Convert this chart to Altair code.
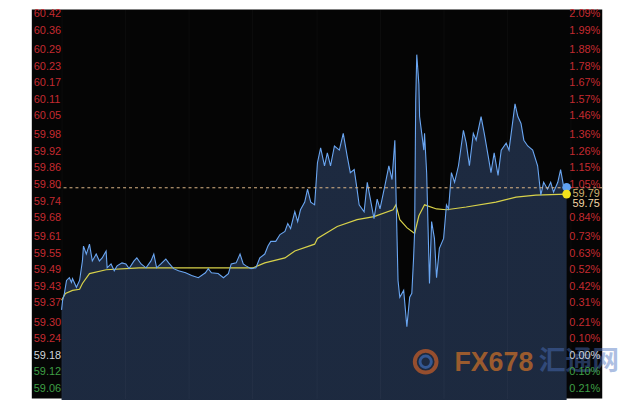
import altair as alt
import pandas as pd

# ---- price series (minutes from session open, price) ----
times = [0, 3, 8, 14, 22, 28, 31, 42, 51, 59, 62, 70, 79, 87, 98, 107, 115, 126, 129, 140,
         149, 157, 171, 182, 191, 205, 213, 225, 239, 253, 261, 269, 281, 295, 303, 317, 331, 351, 368, 387,
         407, 415, 424, 443, 458, 472, 480, 494, 505, 514, 522, 536, 550, 561, 575, 584, 592, 606, 618, 632,
         640, 648, 660, 668, 676, 688, 696, 705, 716, 724, 733, 744, 752, 761, 772, 786, 797, 808, 817, 828,
         836, 842, 856, 865, 870, 884, 893, 901, 915, 926, 935, 943, 946, 952, 957, 968, 977, 985, 991, 996,
         999, 1002, 1005, 1011, 1013, 1025, 1027, 1033, 1041, 1047, 1055, 1061, 1069, 1081, 1089, 1095, 1103, 1112, 1123, 1137,
         1145, 1154, 1165, 1173, 1187, 1196, 1207, 1215, 1224, 1235, 1244, 1258, 1266, 1277, 1283, 1291, 1300, 1308, 1319, 1333,
         1347, 1356, 1364, 1375, 1384, 1392, 1404, 1412, 1420, 1429]
prices = [59.346, 59.381, 59.406, 59.453, 59.463, 59.446, 59.460, 59.428, 59.453, 59.524, 59.578, 59.549, 59.585, 59.524, 59.549, 59.524, 59.535, 59.560, 59.499, 59.513,
          59.488, 59.506, 59.517, 59.513, 59.496, 59.524, 59.535, 59.513, 59.499, 59.524, 59.549, 59.499, 59.513, 59.531, 59.517, 59.496, 59.488, 59.481, 59.471, 59.463,
          59.481, 59.496, 59.481, 59.478, 59.463, 59.478, 59.513, 59.517, 59.549, 59.513, 59.506, 59.496, 59.499, 59.535, 59.549, 59.578, 59.595, 59.595, 59.620, 59.631,
          59.660, 59.642, 59.703, 59.667, 59.710, 59.738, 59.785, 59.738, 59.728, 59.881, 59.935, 59.870, 59.917, 59.870, 59.942, 59.927, 59.988, 59.906, 59.845, 59.856,
          59.785, 59.728, 59.703, 59.810, 59.774, 59.678, 59.749, 59.713, 59.799, 59.870, 59.820, 59.963, 59.785, 59.453, 59.392, 59.417, 59.285, 59.392, 59.406, 59.535,
          59.631, 60.106, 60.274, 60.167, 60.049, 59.927, 59.988, 59.845, 59.442, 59.667, 59.606, 59.463, 59.570, 59.606, 59.728, 59.713, 59.845, 59.810, 59.870, 59.999,
          59.952, 59.870, 59.988, 59.963, 60.049, 59.988, 59.906, 59.845, 59.917, 59.835, 59.927, 59.952, 59.927, 60.035, 60.095, 60.049, 60.024, 59.963, 59.942, 59.927,
          59.870, 59.763, 59.810, 59.785, 59.810, 59.774, 59.810, 59.856, 59.799, 59.792]

# ---- average price line ----
avg_times = [0, 11, 31, 51, 59, 79, 126, 219, 542, 575, 632, 660, 716, 724, 780, 836, 884, 938, 946, 957,
             977, 999, 1011, 1027, 1061, 1089, 1145, 1229, 1286, 1342, 1429]
avg_prices = [59.381, 59.406, 59.417, 59.421, 59.442, 59.478, 59.492, 59.499, 59.499, 59.517, 59.535, 59.560, 59.585, 59.606, 59.649, 59.674, 59.685, 59.710, 59.728, 59.674,
              59.645, 59.624, 59.688, 59.728, 59.713, 59.710, 59.720, 59.738, 59.756, 59.763, 59.767]

# ---- axes ----
left_ticks = [60.42, 60.36, 60.29, 60.23, 60.17, 60.11, 60.05, 59.98, 59.92, 59.86, 59.80, 59.74,
              59.68, 59.61, 59.55, 59.49, 59.43, 59.37, 59.30, 59.24, 59.18, 59.12, 59.06]
pct_labels = ["2.09%", "1.99%", "1.88%", "1.78%", "1.67%", "1.57%", "1.46%", "1.36%", "1.26%", "1.15%", "1.05%", "0.94%",
              "0.84%", "0.73%", "0.63%", "0.52%", "0.42%", "0.31%", "0.21%", "0.10%", "0.00%", "0.10%", "0.21%"]
base_price = 59.18
last_price = 59.79
last_avg = 59.75
grid_times = [0, 180, 360, 540, 720, 900, 1080, 1260, 1440]

RED, GREY, GREEN = "#c42a30", "#cfd3da", "#3e9e44"

def tick_color(v):
    if abs(v - base_price) < 1e-6:
        return GREY
    return RED if v > base_price else GREEN

price_df = pd.DataFrame({"t": times, "p": prices})
avg_df = pd.DataFrame({"t": avg_times, "p": avg_prices})
left_df = pd.DataFrame({"p": left_ticks, "label": [f"{v:.2f}" for v in left_ticks],
                        "c": [tick_color(v) for v in left_ticks]})
right_df = pd.DataFrame({"p": left_ticks, "label": pct_labels, "c": [tick_color(v) for v in left_ticks]})
right_df = right_df[(right_df["p"] - last_avg).abs() > 0.02]
last_df = pd.DataFrame({"t": [times[-1]], "p": [prices[-1]]})
lastavg_df = pd.DataFrame({"t": [avg_times[-1]], "p": [avg_prices[-1]]})
ref_df = pd.DataFrame({"p": [last_price]})
tag_df = pd.DataFrame({"p": [last_price, last_avg], "label": [f"{last_price:.2f}", f"{last_avg:.2f}"]})

W, H = 575, 392
xs = alt.Scale(domain=[-84.2, 1529.8], nice=False, zero=False)
ys = alt.Scale(domain=[59.0240, 60.4380], nice=False, zero=False)

grid_axis_x = alt.Axis(values=grid_times, grid=True, labels=False, ticks=False, domain=False, title=None,
                       gridColor="#ffffff", gridOpacity=0.035, zindex=1)
grid_axis_y = alt.Axis(values=left_ticks, grid=True, labels=False, ticks=False, domain=False, title=None,
                       gridColor="#ffffff", gridOpacity=0.045, zindex=1)

X = alt.X("t:Q", scale=xs, axis=grid_axis_x)
Y = alt.Y("p:Q", scale=ys, axis=grid_axis_y)

area = alt.Chart(price_df).mark_area(
    color=alt.Gradient(gradient="linear",
                       stops=[alt.GradientStop(color="#1d2a40", offset=0),
                              alt.GradientStop(color="#0f1621", offset=1)],
                       x1=1, x2=1, y1=0, y2=1)
).encode(x=X, y=Y)

# watermark
wm_fx = alt.Chart(pd.DataFrame({"s": ["FX678"]})).mark_text(
    font="Liberation Sans", fontSize=27, fontWeight="bold", color="#b0642c", opacity=0.85, align="left", baseline="middle"
).encode(text="s:N", x=alt.value(426), y=alt.value(356))
wm_cn = alt.Chart(pd.DataFrame({"s": ["汇通网"]})).mark_text(
    font="Noto Sans CJK SC", fontSize=27, fontWeight="bold", color="#4c72c0", opacity=0.45, align="left", baseline="middle"
).encode(text="s:N", x=alt.value(511), y=alt.value(355))
wm_logo1 = alt.Chart(pd.DataFrame({"s": [1]})).mark_point(
    shape="circle", filled=False, size=480, strokeWidth=4, color="#b5582a", opacity=0.8
).encode(x=alt.value(397), y=alt.value(355))
wm_logo2 = alt.Chart(pd.DataFrame({"s": [1]})).mark_point(
    shape="circle", filled=False, size=130, strokeWidth=3, color="#3a64a8", opacity=0.8
).encode(x=alt.value(397), y=alt.value(355))

avg_line = alt.Chart(avg_df).mark_line(color="#d8d24a", strokeWidth=1.2).encode(x=X, y=Y)
price_line = alt.Chart(price_df).mark_line(color="#6aa6f2", strokeWidth=1.1).encode(x=X, y=Y)

ref_rule = alt.Chart(ref_df).mark_rule(color="#e0b888", strokeDash=[3, 3], strokeWidth=1).encode(
    y=alt.Y("p:Q", scale=ys, axis=None), x=alt.value(26), x2=alt.value(W))

left_text = alt.Chart(left_df).mark_text(font="Liberation Sans", fontSize=11, align="left", baseline="middle").encode(
    y=alt.Y("p:Q", scale=ys, axis=None), x=alt.value(2), text="label:N", color=alt.Color("c:N", scale=None))
right_text = alt.Chart(right_df).mark_text(font="Liberation Sans", fontSize=11, align="right", baseline="middle").encode(
    y=alt.Y("p:Q", scale=ys, axis=None), x=alt.value(573), text="label:N", color=alt.Color("c:N", scale=None))

tag1 = alt.Chart(tag_df.iloc[[0]]).mark_text(font="Liberation Sans", fontSize=11, align="left", baseline="middle",
                                             dy=6, color="#cdb070").encode(
    y=alt.Y("p:Q", scale=ys, axis=None), x=alt.value(545), text="label:N")
tag2 = alt.Chart(tag_df.iloc[[1]]).mark_text(font="Liberation Sans", fontSize=11, align="left", baseline="middle",
                                             dy=5, color="#f3d6a6").encode(
    y=alt.Y("p:Q", scale=ys, axis=None), x=alt.value(545), text="label:N")

dot_price = alt.Chart(last_df).mark_point(filled=True, size=75, color="#5fa0f0", opacity=1).encode(x=X, y=Y)
dot_avg = alt.Chart(lastavg_df).mark_point(filled=True, size=75, color="#f2e21c", opacity=1).encode(x=X, y=Y)

chart = alt.layer(
    area, wm_logo1, wm_logo2, wm_fx, wm_cn, avg_line, price_line, ref_rule,
    left_text, right_text, tag1, tag2, dot_price, dot_avg
).properties(
    width=W, height=H,
    padding={"left": 24, "top": 0, "right": 30, "bottom": 0},
    autosize=alt.AutoSizeParams(type="none"),
    background="#ffffff"
).configure_view(fill="#050505", strokeWidth=0)

chart.save("out.html", embed_options={"renderer": "svg", "actions": False})
